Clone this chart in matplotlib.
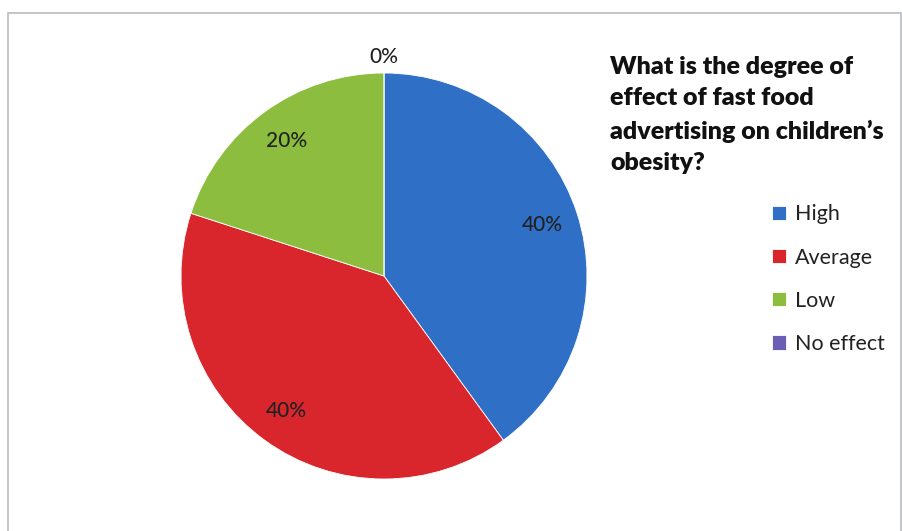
import matplotlib.pyplot as plt
from matplotlib.patches import Rectangle
import numpy as np

plt.rcParams['font.family'] = ['Lato', 'DejaVu Sans']

categories = ['High', 'Average', 'Low', 'No effect']
shares = [40, 40, 20, 0]
colors = ['#2f6fc6', '#d9262c', '#8dbd3e', '#6a5fb4']
title = "What is the degree of\neffect of fast food\nadvertising on children\u2019s\nobesity?"

W, H = 903, 531
fig = plt.figure(figsize=(W / 100, H / 100), dpi=100)

# chart frame
fig.patches.append(Rectangle((8 / W, -0.05), (901 - 8) / W, (H - 13) / H + 0.05,
                             transform=fig.transFigure, fill=False,
                             edgecolor='#b9bcc0', linewidth=1.2))

# pie axes, centre (384, 276) px, radius 203 px
cx, cy, r = 384, 276, 203
ax = fig.add_axes([(cx - r) / W, (H - cy - r) / H, 2 * r / W, 2 * r / H])
wedges, texts, autotexts = ax.pie(
    shares, colors=colors, startangle=90, counterclock=False,
    autopct='%1.0f%%', pctdistance=0.82,
    wedgeprops=dict(linewidth=0.6, edgecolor='white'),
    textprops=dict(fontsize=15, color='#222222', fontweight='medium'))
ax.set_xlim(-1, 1)
ax.set_ylim(-1, 1)
ax.set_aspect('equal')

# zero-size slices get their label pushed outside the rim
for w, t, v in zip(wedges, autotexts, shares):
    if v == 0:
        ang = np.deg2rad((w.theta1 + w.theta2) / 2)
        t.set_position((1.08 * np.cos(ang), 1.08 * np.sin(ang)))

fig.text(610 / W, 1 - 56 / H, title, ha='left', va='top', fontsize=18,
         fontweight='heavy', color='#111111', linespacing=1.52)

fig.legend(wedges, categories, loc='upper left',
           bbox_to_anchor=(753 / W, 1 - 185 / H), frameon=False,
           fontsize=15.5, handlelength=0.65, handleheight=0.65,
           handletextpad=0.4, labelspacing=1.08, labelcolor='#222222')

fig.savefig('out.png', dpi=100, facecolor='white')
